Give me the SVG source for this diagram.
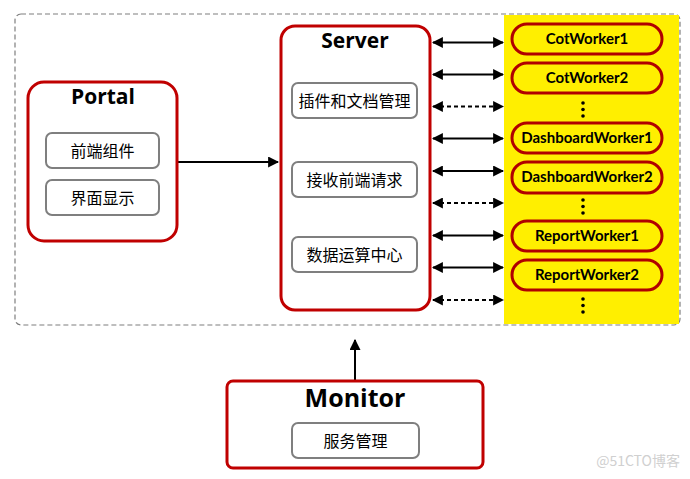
<svg xmlns="http://www.w3.org/2000/svg" width="690" height="479" viewBox="0 0 690 479">
<style>
.big{fill:#fff;stroke:#c00000;stroke-width:3}
.inner{fill:#fff;stroke:#7f7f7f;stroke-width:2}
.worker{fill:#ffef00;stroke:#b00000;stroke-width:3}
.title{font-family:"Open Sans","Noto Sans","Liberation Sans",sans-serif;font-weight:bold;fill:#000;text-anchor:middle}
.cn{font-family:"Noto Sans CJK SC",sans-serif;font-size:16px;fill:#000;text-anchor:middle}
.wt{font-family:Lato,"Open Sans","Liberation Sans",sans-serif;font-weight:bold;font-size:15px;fill:#000;text-anchor:middle}
.ln{stroke:#000;stroke-width:2;fill:none}
.dash{stroke-dasharray:4 3}
</style>
<defs>
<marker id="ah" viewBox="0 0 10 10" refX="9" refY="5" markerWidth="5.5" markerHeight="5.5" orient="auto-start-reverse">
<path d="M0,0 L10,5 L0,10 z" fill="#000"/>
</marker>
</defs>
<rect x="15" y="14" width="665" height="311" rx="6" fill="#fff" stroke="#7f7f7f" stroke-width="1.2" stroke-dasharray="5 3"/>
<rect x="504" y="15" width="175" height="309" fill="#ffef00"/>

<g id="connectors">
<line class="ln" x1="178" y1="162" x2="278" y2="162" marker-end="url(#ah)"/>
<line class="ln" x1="355" y1="381" x2="355" y2="340" marker-end="url(#ah)"/>
<line class="ln" x1="433" y1="42.5" x2="503" y2="42.5" marker-start="url(#ah)" marker-end="url(#ah)"/>
<line class="ln" x1="433" y1="74.5" x2="503" y2="74.5" marker-start="url(#ah)" marker-end="url(#ah)"/>
<line class="ln dash" x1="433" y1="106.5" x2="503" y2="106.5" marker-start="url(#ah)" marker-end="url(#ah)"/>
<line class="ln" x1="433" y1="138.5" x2="503" y2="138.5" marker-start="url(#ah)" marker-end="url(#ah)"/>
<line class="ln" x1="433" y1="171" x2="503" y2="171" marker-start="url(#ah)" marker-end="url(#ah)"/>
<line class="ln dash" x1="433" y1="203" x2="503" y2="203" marker-start="url(#ah)" marker-end="url(#ah)"/>
<line class="ln" x1="433" y1="235.5" x2="503" y2="235.5" marker-start="url(#ah)" marker-end="url(#ah)"/>
<line class="ln" x1="433" y1="267.5" x2="503" y2="267.5" marker-start="url(#ah)" marker-end="url(#ah)"/>
<line class="ln dash" x1="433" y1="300" x2="503" y2="300" marker-start="url(#ah)" marker-end="url(#ah)"/>
</g>

<g id="portal">
<rect class="big" x="28" y="82" width="149" height="159" rx="16"/>
<text class="title" x="103" y="104" font-size="21">Portal</text>
<rect class="inner" x="46" y="133" width="113" height="35" rx="6"/>
<text class="cn" x="102.5" y="156.5">前端组件</text>
<rect class="inner" x="46" y="180" width="113" height="35" rx="6"/>
<text class="cn" x="102.5" y="203.5">界面显示</text>
</g>

<g id="server">
<rect class="big" x="281" y="26" width="149" height="284" rx="14"/>
<text class="title" x="355" y="48" font-size="21">Server</text>
<rect class="inner" x="292" y="83" width="125" height="35" rx="6"/>
<text class="cn" x="354.5" y="106.5">插件和文档管理</text>
<rect class="inner" x="292" y="162" width="125" height="35" rx="6"/>
<text class="cn" x="354.5" y="185.5">接收前端请求</text>
<rect class="inner" x="292" y="237" width="125" height="35" rx="6"/>
<text class="cn" x="354.5" y="260.5">数据运算中心</text>
</g>

<g id="monitor">
<rect class="big" x="227" y="381" width="256" height="87" rx="6"/>
<text class="title" x="355" y="407" font-size="25">Monitor</text>
<rect class="inner" x="292" y="423" width="127" height="35" rx="6"/>
<text class="cn" x="355.5" y="446.5">服务管理</text>
</g>

<g id="cotworker1"><rect class="worker" x="512" y="24" width="150" height="30" rx="15"/><text class="wt" x="587" y="44">CotWorker1</text></g>
<g id="cotworker2"><rect class="worker" x="512" y="63" width="150" height="30" rx="15"/><text class="wt" x="587" y="83">CotWorker2</text></g>
<g id="dots1" fill="#000"><circle cx="583" cy="103" r="1.8"/><circle cx="583" cy="109.5" r="1.8"/><circle cx="583" cy="116" r="1.8"/></g>
<g id="dashboardworker1"><rect class="worker" x="512" y="123" width="150" height="30" rx="15"/><text class="wt" x="587" y="143">DashboardWorker1</text></g>
<g id="dashboardworker2"><rect class="worker" x="512" y="162" width="150" height="31" rx="15"/><text class="wt" x="587" y="182">DashboardWorker2</text></g>
<g id="dots2" fill="#000"><circle cx="583" cy="200" r="1.8"/><circle cx="583" cy="206.5" r="1.8"/><circle cx="583" cy="213" r="1.8"/></g>
<g id="reportworker1"><rect class="worker" x="512" y="221" width="150" height="30" rx="15"/><text class="wt" x="587" y="241">ReportWorker1</text></g>
<g id="reportworker2"><rect class="worker" x="512" y="260" width="150" height="30" rx="15"/><text class="wt" x="587" y="280">ReportWorker2</text></g>
<g id="dots3" fill="#000"><circle cx="583" cy="299" r="1.8"/><circle cx="583" cy="305.5" r="1.8"/><circle cx="583" cy="312" r="1.8"/></g>

<text x="680" y="466" font-family="'Noto Sans CJK SC',sans-serif" font-size="14" fill="#d0d0d0" text-anchor="end">@51CTO博客</text>
</svg>
